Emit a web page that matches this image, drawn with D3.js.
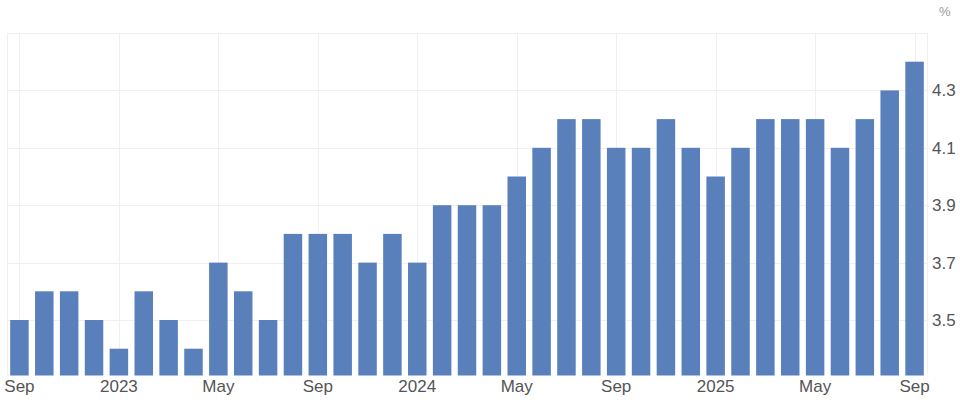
<!DOCTYPE html>
<html><head><meta charset="utf-8">
<script src="https://cdn.jsdelivr.net/npm/d3@7"></script>
<style>body{margin:0;background:#fff}svg{display:block;font-family:Arial,"Liberation Sans",sans-serif}</style>
</head><body><div id="c"></div>
<script>
const months = ["2022-09","2022-10","2022-11","2022-12","2023-01","2023-02","2023-03","2023-04","2023-05","2023-06","2023-07","2023-08","2023-09","2023-10","2023-11","2023-12","2024-01","2024-02","2024-03","2024-04","2024-05","2024-06","2024-07","2024-08","2024-09","2024-10","2024-11","2024-12","2025-01","2025-02","2025-03","2025-04","2025-05","2025-06","2025-07","2025-08","2025-09"];
const values = [3.5,3.6,3.6,3.5,3.4,3.6,3.5,3.4,3.7,3.6,3.5,3.8,3.8,3.8,3.7,3.8,3.7,3.9,3.9,3.9,4.0,4.1,4.2,4.2,4.1,4.1,4.2,4.1,4.0,4.1,4.2,4.2,4.2,4.1,4.2,4.3,4.4];
const xTickMonths = ["2022-09","2023-01","2023-05","2023-09","2024-01","2024-05","2024-09","2025-01","2025-05","2025-09"];
const xTickLabels = ["Sep","2023","May","Sep","2024","May","Sep","2025","May","Sep"];
const yTicks = [3.5,3.7,3.9,4.1,4.3];
const unit = "%";

(function(){
const W=960,H=406, pL=7, pR=927, pT=33, pB=375.5;
const svg=d3.select("#c").append("svg").attr("width",W).attr("height",H);
const x=d3.scaleBand().domain(months).range([pL,pR]).paddingInner(0.256).paddingOuter(0.128);
const y=d3.scaleLinear().domain([3.5,4.5]).range([320,pT]);
const grid="#f0f0f0";
const g=svg.append("g");
g.selectAll("line.h").data(yTicks.concat([4.5])).join("line")
 .attr("x1",pL).attr("x2",pR).attr("y1",d=>Math.round(y(d))+0.5).attr("y2",d=>Math.round(y(d))+0.5)
 .attr("stroke",grid).attr("stroke-width",1);
const cx=m=>x(m)+x.bandwidth()/2;
g.selectAll("line.v").data(xTickMonths).join("line")
 .attr("x1",d=>Math.round(cx(d))+0.5).attr("x2",d=>Math.round(cx(d))+0.5).attr("y1",pT).attr("y2",pB)
 .attr("stroke",grid);
[pL,pR].forEach(v=>g.append("line").attr("x1",v+0.5).attr("x2",v+0.5).attr("y1",pT).attr("y2",pB).attr("stroke",grid));
svg.append("g").selectAll("rect").data(values).join("rect")
 .attr("x",(d,i)=>x(months[i])).attr("width",x.bandwidth())
 .attr("y",d=>y(d)).attr("height",d=>pB-y(d)).attr("fill","#5a80bc");
svg.append("g").selectAll("text").data(xTickMonths).join("text")
 .attr("x",d=>cx(d)).attr("y",392).attr("text-anchor","middle").attr("font-size",17).attr("fill","#555")
 .text((d,i)=>xTickLabels[i]);
svg.append("g").selectAll("text").data(yTicks).join("text")
 .attr("x",932).attr("y",d=>y(d)+6).attr("font-size",17).attr("fill","#555").text(d=>d.toFixed(1));
svg.append("text").attr("x",939).attr("y",16).attr("font-size",13).attr("fill","#999").text(unit);
})();
</script></body></html>
